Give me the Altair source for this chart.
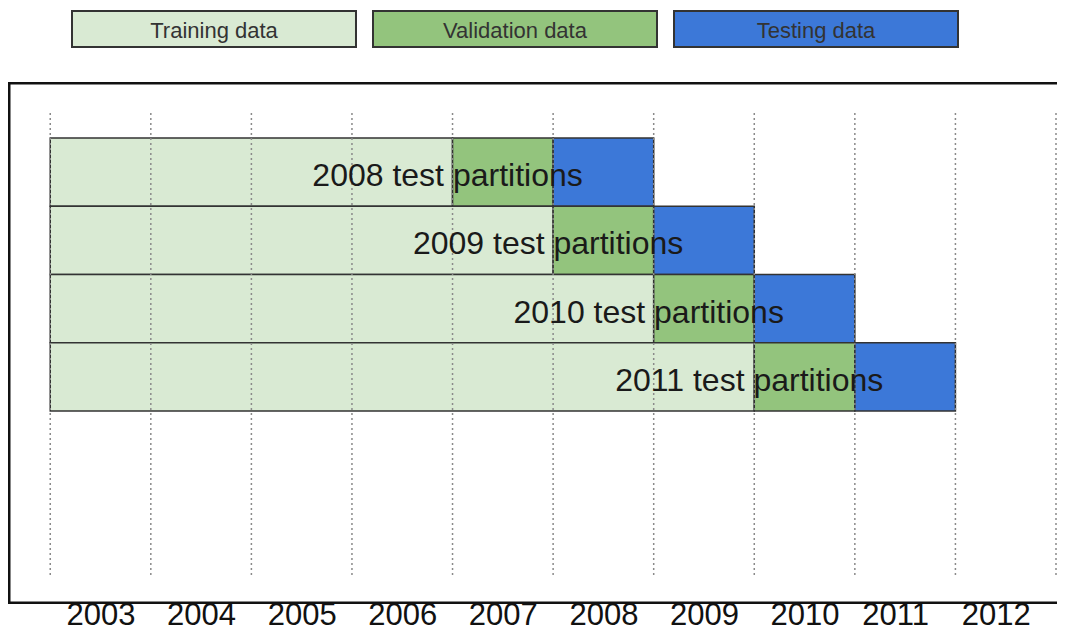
import altair as alt
import pandas as pd

# ---- data ----
test_years = ["2008", "2009", "2010", "2011"]
train_start = [2003, 2003, 2003, 2003]
valid_start = [2007, 2008, 2009, 2010]
test_start = [2008, 2009, 2010, 2011]
test_end = [2009, 2010, 2011, 2012]
row_labels = ["2008 test partitions", "2009 test partitions",
              "2010 test partitions", "2011 test partitions"]
legend_labels = ["Training data", "Validation data", "Testing data"]
legend_colors = ["#d9ead3", "#93c47d", "#3c78d8"]
year_labels = ["2003", "2004", "2005", "2006", "2007",
               "2008", "2009", "2010", "2011", "2012"]
# where each year label sits on the time axis
year_label_at = [2003.5, 2004.5, 2005.5, 2006.5, 2007.5,
                 2008.5, 2009.5, 2010.5, 2011.4, 2012.4]
grid_years = [2003, 2004, 2005, 2006, 2007, 2008, 2009, 2010, 2011, 2012, 2013]

segments = []
for i, ty in enumerate(test_years):
    segments.append(dict(row=ty, kind=legend_labels[0], start=train_start[i], end=valid_start[i]))
    segments.append(dict(row=ty, kind=legend_labels[1], start=valid_start[i], end=test_start[i]))
    segments.append(dict(row=ty, kind=legend_labels[2], start=test_start[i], end=test_end[i]))
seg_df = pd.DataFrame(segments)
text_df = pd.DataFrame({"row": test_years, "x": valid_start, "label": row_labels})
grid_df = pd.DataFrame({"year": grid_years})
leg_df = pd.DataFrame({"item": legend_labels})
frame_df = pd.DataFrame({"k": [0]})

W, H = 1049, 522
FONT = "Liberation Sans"

xscale = alt.Scale(domain=[2002.58, 2013.01], nice=False, zero=False)
yscale = alt.Scale(domain=test_years, range=[56, 329], paddingInner=0, paddingOuter=0)
color_scale = alt.Scale(domain=legend_labels, range=legend_colors)

label_map = "{" + ",".join(f"'{p}':'{l}'" for p, l in zip(year_label_at, year_labels)) + "}"

bars = alt.Chart(seg_df).mark_rect(stroke="#333333", strokeWidth=1.5, clip=True).encode(
    x=alt.X("start:Q", scale=xscale,
            axis=alt.Axis(values=year_label_at,
                          labelExpr=f"{label_map}[''+datum.value]",
                          domain=False, ticks=False, grid=False,
                          labelFontSize=31, labelPadding=20, labelBaseline="alphabetic",
                          labelColor="#111111",
                          labelOverlap=False, labelFlush=False, title=None,
                          labelFont=FONT)),
    x2="end:Q",
    y=alt.Y("row:O", scale=yscale, axis=None),
    color=alt.Color("kind:N", scale=color_scale, legend=None),
)

grid = alt.Chart(grid_df).mark_rule(strokeDash=[2, 3], color="#8a8a8a", strokeWidth=1.5,
                                    clip=True).encode(
    x=alt.X("year:Q", scale=xscale),
    y=alt.value(31),
    y2=alt.value(496),
)

text = alt.Chart(text_df).mark_text(fontSize=32, dx=-5, dy=4, color="#1a1a1a", font=FONT,
                                    clip=True).encode(
    x=alt.X("x:Q", scale=xscale),
    y=alt.Y("row:O", scale=yscale, axis=None),
    text="label:N",
)

top_line = alt.Chart(frame_df).mark_rule(color="#111111", strokeWidth=2.5, clip=True).encode(
    x=alt.value(0), x2=alt.value(W), y=alt.value(1.25))
bottom_line = alt.Chart(frame_df).mark_rule(color="#111111", strokeWidth=2.5, clip=True).encode(
    x=alt.value(0), x2=alt.value(W), y=alt.value(H - 1.25))
left_line = alt.Chart(frame_df).mark_rule(color="#111111", strokeWidth=2.5, clip=True).encode(
    x=alt.value(1.25), y=alt.value(0), y2=alt.value(H))

main = alt.layer(bars, grid, text, top_line, bottom_line, left_line).properties(width=W, height=H)

legx = alt.X("item:N",
             scale=alt.Scale(domain=legend_labels, range=[64, 950], paddingInner=0.0565, paddingOuter=0),
             axis=None)
leg_rect = alt.Chart(leg_df).mark_rect(stroke="#333333", strokeWidth=2, clip=True).encode(
    x=legx, y=alt.value(3), y2=alt.value(39),
    color=alt.Color("item:N", scale=color_scale, legend=None),
)
leg_text = alt.Chart(leg_df).mark_text(fontSize=22, color="#333333", font=FONT, dy=1.5,
                                       clip=True).encode(
    x=legx, y=alt.value(21), text="item:N",
)
legend = alt.layer(leg_rect, leg_text).properties(width=W, height=40)

chart = alt.vconcat(legend, main, spacing=34).properties(
    padding=0
).configure(font=FONT).configure_view(stroke=None)

chart.save("out.html", embed_options={"renderer": "svg", "actions": False})
